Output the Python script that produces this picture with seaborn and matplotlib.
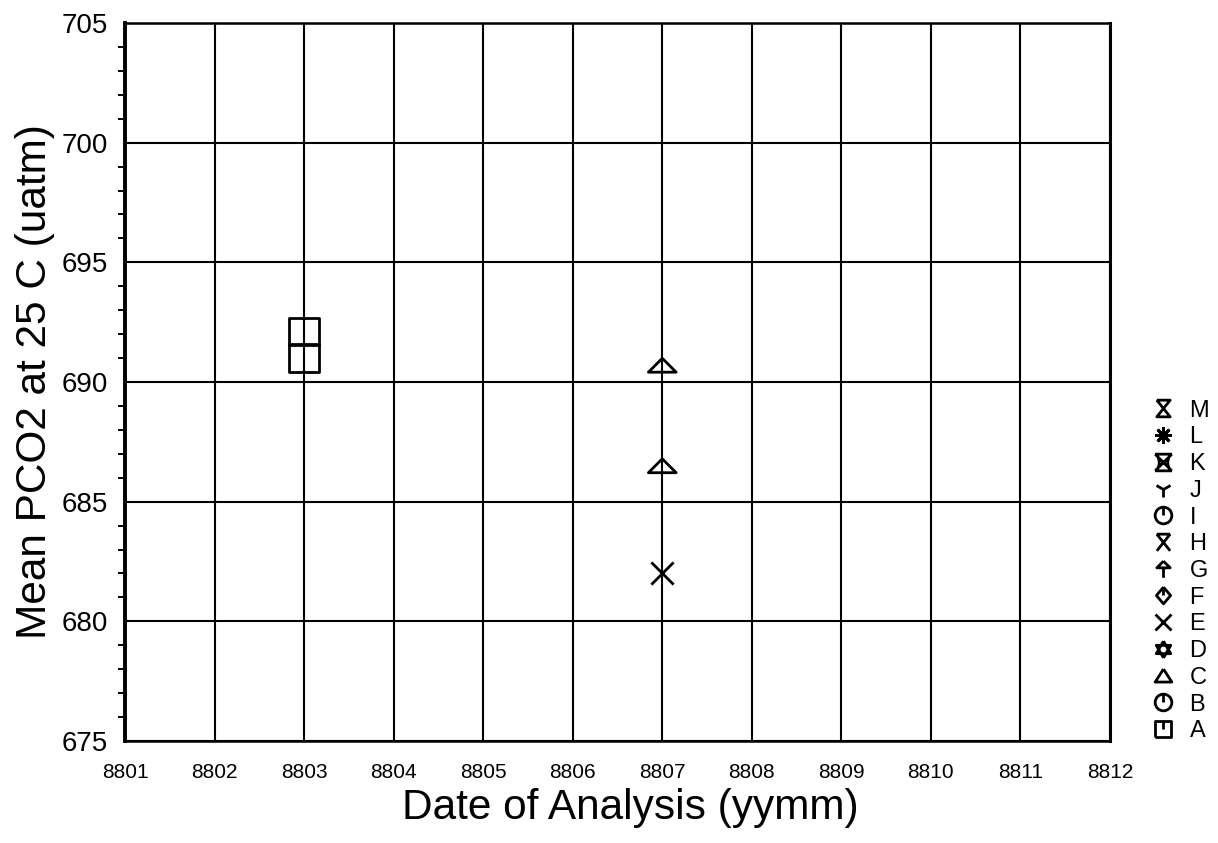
import numpy as np
import pandas as pd
import seaborn as sns
import matplotlib
matplotlib.use("Agg")
import matplotlib.pyplot as plt
from matplotlib.path import Path
from matplotlib.lines import Line2D

# ---- data ----
a_dates = [8803, 8803]
a_pco2 = [692.1, 691.0]
c_dates = [8807, 8807]
c_pco2 = [690.7, 686.5]
e_dates = [8807]
e_pco2 = [682.0]

legend_labels = ["M", "L", "K", "J", "I", "H", "G", "F", "E", "D", "C", "B", "A"]
x_ticks = [8801, 8802, 8803, 8804, 8805, 8806, 8807, 8808, 8809, 8810, 8811, 8812]
y_ticks = [675, 680, 685, 690, 695, 700, 705]

sns.set_style("white")
plt.rcParams["font.family"] = ["Liberation Sans", "DejaVu Sans"]
plt.rcParams["text.color"] = "black"
plt.rcParams["axes.labelcolor"] = "black"
plt.rcParams["xtick.color"] = "black"
plt.rcParams["ytick.color"] = "black"

M_, L_, C_ = Path.MOVETO, Path.LINETO, Path.CLOSEPOLY


def seg(points_list):
    verts, codes = [], []
    for pts in points_list:
        verts.append(pts[0]); codes.append(M_)
        for p in pts[1:]:
            verts.append(p); codes.append(L_)
    return Path(verts, codes)


def circ_with(extra):
    return Path.make_compound_path(Path.unit_circle(), seg(extra))


mk = {
    "M": seg([[(-0.8, 1), (0.8, 1), (-0.8, -1), (0.8, -1), (-0.8, 1)]]),
    "L": (8, 2, 0),
    "K": seg([[(-1, 1), (1, 1)], [(-1, -1), (1, -1)], [(-1, 1), (1, -1)], [(1, 1), (-1, -1)],
              [(-0.6, 0.6), (-0.5, 0), (-0.6, -0.6)], [(0.6, 0.6), (0.5, 0), (0.6, -0.6)]]),
    "J": "1",
    "I": circ_with([[(0, 1), (0, 0)]]),
    "H": seg([[(-0.8, 1), (0.8, 1)], [(-0.8, 1), (0.8, -1)], [(0.8, 1), (-0.8, -1)]]),
    "G": seg([[(0, 1), (-0.8, 0.2), (0.8, 0.2), (0, 1)], [(0, 0.2), (0, -1)]]),
    "F": seg([[(0, 1), (0.85, 0), (0, -1), (-0.85, 0), (0, 1)], [(0, 1), (0, 0)]]),
    "E": "x",
    "D": seg([[(0, 1), (-0.87, -0.5), (0.87, -0.5), (0, 1)], [(0, -1), (-0.87, 0.5), (0.87, 0.5), (0, -1)]]),
    "C": seg([[(0, 0.8), (-0.9, -0.6), (0.9, -0.6), (0, 0.8)]]),
    "B": circ_with([[(0, 1), (0, 0)]]),
    "A": seg([[(-0.9, -0.9), (0.9, -0.9), (0.9, 0.9), (-0.9, 0.9), (-0.9, -0.9)], [(0, 0.9), (0, 0)]]),
}

fig = plt.figure(figsize=(12.18, 8.43), dpi=100)
ax = fig.add_axes([125 / 1218, 1 - 741 / 843, (1110 - 125) / 1218, (741 - 23) / 843])

df_a = pd.DataFrame({"date": a_dates, "pco2": a_pco2})
df_c = pd.DataFrame({"date": c_dates, "pco2": c_pco2})
df_e = pd.DataFrame({"date": e_dates, "pco2": e_pco2})

rect = Path([(-0.55, -0.5), (0.55, -0.5), (0.55, 0.5), (-0.55, 0.5), (-0.55, -0.5)], [M_, L_, L_, L_, C_])
flat_tri = Path([(0, 0.25), (-0.5, -0.25), (0.5, -0.25), (0, 0.25)], [M_, L_, L_, C_])

sns.scatterplot(data=df_a, x="date", y="pco2", marker=rect, s=21.5 ** 2, color="black",
                facecolor="none", edgecolor="black", linewidth=2.0, ax=ax, zorder=5)
sns.scatterplot(data=df_c, x="date", y="pco2", marker=flat_tri, s=20 ** 2, color="black",
                facecolor="none", edgecolor="black", linewidth=2.0, ax=ax, zorder=5)
sns.scatterplot(data=df_e, x="date", y="pco2", marker="x", s=16 ** 2, color="black",
                linewidth=2.0, ax=ax, zorder=5)

ax.set_xlim(x_ticks[0], x_ticks[-1])
ax.set_ylim(y_ticks[0], y_ticks[-1])
ax.set_xticks(x_ticks)
ax.set_xticklabels([str(t) for t in x_ticks], fontsize=15)
ax.set_yticks(y_ticks)
ax.set_yticklabels([str(t) for t in y_ticks], fontsize=20)
ax.set_yticks(np.arange(y_ticks[0], y_ticks[-1] + 1, 1), minor=True)
ax.tick_params(axis="both", which="major", direction="out", length=9, width=1.6, color="black", pad=3)
ax.tick_params(axis="y", which="minor", direction="out", length=5, width=1.4, color="black", left=True)
ax.tick_params(axis="x", which="major", pad=7)
ax.grid(True, which="major", color="black", linewidth=1.5)
ax.set_axisbelow(True)
for side, lw in [("left", 2.8), ("right", 2.2), ("top", 1.8), ("bottom", 1.8)]:
    ax.spines[side].set_visible(True)
    ax.spines[side].set_color("black")
    ax.spines[side].set_linewidth(lw)

ax.set_xlabel("Date of Analysis (yymm)", fontsize=30.5, labelpad=6)
ax.set_ylabel("Mean PCO2 at 25 C (uatm)", fontsize=30.5, labelpad=5)
ax.xaxis.set_label_coords(0.513, -0.065)

handles = []
for lab in legend_labels:
    m = mk[lab]
    handles.append(Line2D([], [], linestyle="none", marker=m, markersize=12, color="black",
                          markerfacecolor="none", markeredgecolor="black", markeredgewidth=2.0))
leg = ax.legend(handles, legend_labels, loc="center left", bbox_to_anchor=(1140 / 1218, 1 - 571 / 843),
                bbox_transform=fig.transFigure, frameon=False, fontsize=17, handlelength=0.95,
                handletextpad=0.65, labelspacing=0.2, borderpad=0, borderaxespad=0.5)

fig.savefig("out.png", dpi=100)
